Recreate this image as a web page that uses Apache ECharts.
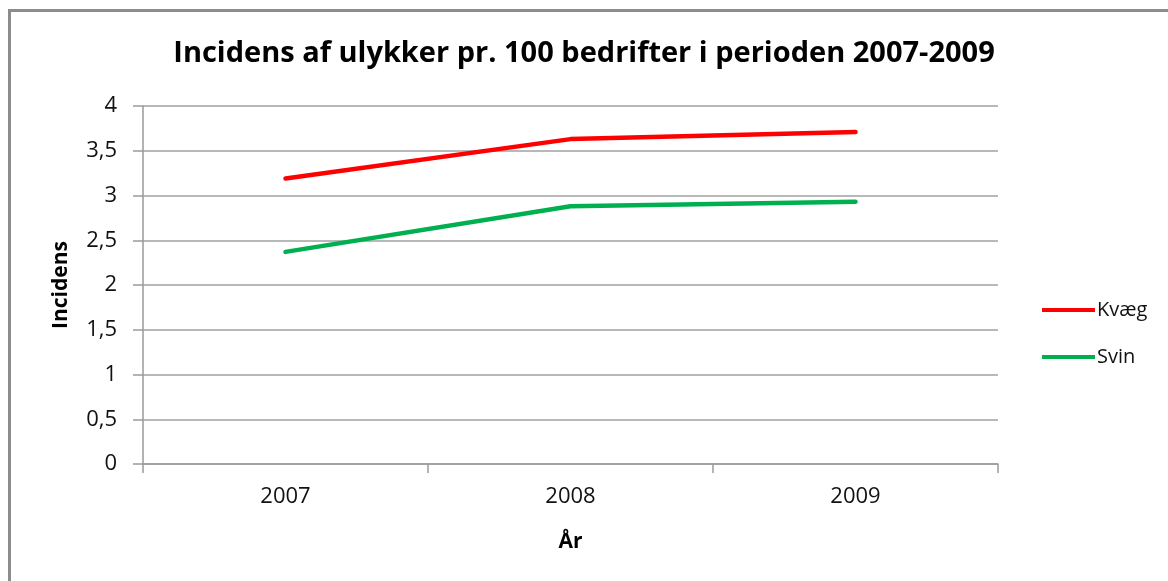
<!DOCTYPE html>
<html>
<head>
<meta charset="utf-8">
<script src="https://cdn.jsdelivr.net/npm/echarts@6/dist/echarts.min.js"></script>
<style>
  html, body { margin: 0; padding: 0; background: #fff; }
  #wrap { position: relative; width: 1168px; height: 581px; overflow: hidden; }
  #main { width: 1168px; height: 581px; }
  #frame { position: absolute; left: 8px; top: 9px; width: 1200px; height: 600px;
           border-left: 3px solid #8c8c8c; border-top: 3px solid #8c8c8c; pointer-events: none; }
</style>
</head>
<body>
<div id="wrap">
  <div id="main"></div>
  <div id="frame"></div>
</div>
<script>
var years = ['2007', '2008', '2009'];
var kvaeg = [3.19, 3.63, 3.71];
var svin = [2.37, 2.88, 2.93];

var font = '"Open Sans", sans-serif';
var chart = echarts.init(document.getElementById('main'));

var option = {
  animation: false,
  textStyle: { fontFamily: font },
  title: {
    text: 'Incidens af ulykker pr. 100 bedrifter i perioden 2007-2009',
    left: 'center',
    top: 34,
    textStyle: { fontSize: 29, fontWeight: 'bold', color: '#000', fontFamily: font }
  },
  legend: {
    orient: 'vertical',
    left: 1037,
    top: 295,
    itemWidth: 53,
    itemHeight: 4,
    itemGap: 27,
    icon: 'rect',
    textStyle: { fontSize: 20, color: '#111', fontFamily: font, padding: [0, 0, 0, -3] },
    data: ['Kvæg', 'Svin']
  },
  grid: {
    left: 143,
    right: 170,
    top: 106,
    bottom: 117
  },
  xAxis: {
    type: 'category',
    data: years,
    boundaryGap: true,
    name: 'År',
    nameLocation: 'middle',
    nameGap: 68,
    nameTextStyle: { fontSize: 21, fontWeight: 'bold', color: '#000', fontFamily: font },
    axisLine: { lineStyle: { color: '#9a9a9a', width: 1.5 } },
    axisTick: { show: true, length: 9, lineStyle: { color: '#9a9a9a', width: 1.5 } },
    axisLabel: { fontSize: 22, color: '#111', margin: 22, fontFamily: font },
    splitLine: { show: false }
  },
  yAxis: {
    type: 'value',
    min: 0,
    max: 4,
    interval: 0.5,
    name: 'Incidens',
    nameLocation: 'middle',
    nameGap: 71,
    nameRotate: 90,
    nameTextStyle: { fontSize: 21, fontWeight: 'bold', color: '#000', fontFamily: font },
    axisLine: { show: true, lineStyle: { color: '#9a9a9a', width: 1.5 } },
    axisTick: { show: true, length: 10, lineStyle: { color: '#9a9a9a', width: 1.5 } },
    axisLabel: {
      fontSize: 22, color: '#111', margin: 26, fontFamily: font,
      formatter: function (v) { return String(v).replace('.', ','); }
    },
    splitLine: { show: true, lineStyle: { color: '#a0a0a0', width: 1.5 } }
  },
  series: [
    {
      name: 'Kvæg',
      type: 'line',
      data: kvaeg,
      symbol: 'none',
      lineStyle: { color: '#ff0000', width: 4.5, cap: 'round' },
      itemStyle: { color: '#ff0000' }
    },
    {
      name: 'Svin',
      type: 'line',
      data: svin,
      symbol: 'none',
      lineStyle: { color: '#00b050', width: 4.5, cap: 'round' },
      itemStyle: { color: '#00b050' }
    }
  ]
};

chart.setOption(option);
</script>
</body>
</html>
